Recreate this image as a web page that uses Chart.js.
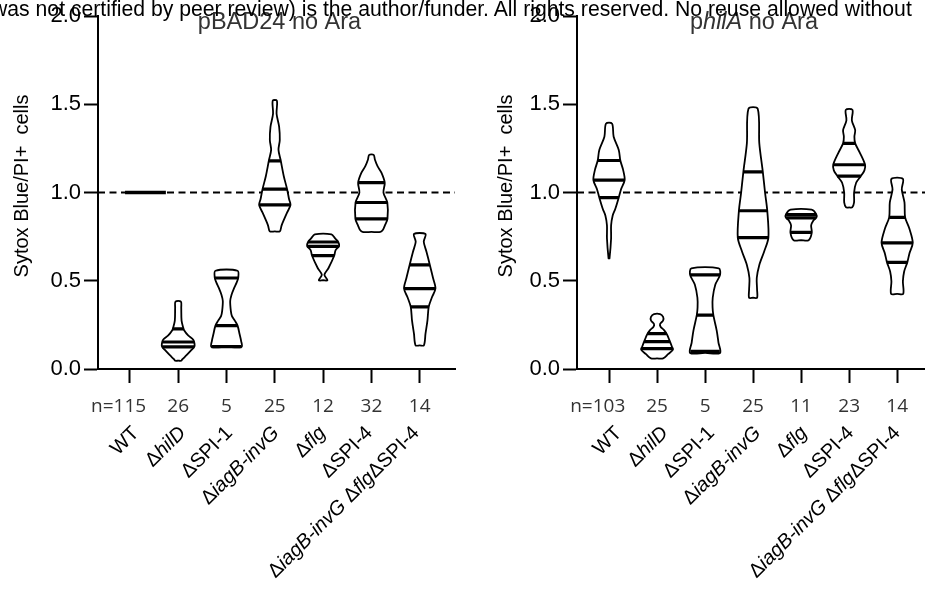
<!DOCTYPE html>
<html>
<head>
<meta charset="utf-8">
<script src="https://cdn.jsdelivr.net/npm/chart.js@4.4.1/dist/chart.umd.min.js"></script>
<style>
  html, body { margin: 0; padding: 0; background: #fff; }
  body { width: 925px; height: 597px; position: relative; overflow: hidden; }
  .panel { position: absolute; top: 0; }
  .note {
    position: absolute; left: -8px; top: -2px; z-index: 5;
    font: 21.2px "Liberation Sans", Arial, sans-serif; line-height: 21.2px;
    white-space: nowrap; color: #000;
  }
</style>
</head>
<body>
<canvas id="left" class="panel" style="left:0" width="462" height="597"></canvas>
<canvas id="right" class="panel" style="left:462px" width="463" height="597"></canvas>
<div class="note">was not certified by peer review) is the author/funder. All rights reserved. No reuse allowed without</div>
<script>
// strains on the x axis (italic gene names are listed separately)
const categories = ['WT', 'ΔhilD', 'ΔSPI-1', 'ΔiagB-invG', 'Δflg', 'ΔSPI-4', 'ΔiagB-invG ΔflgΔSPI-4'];
const italicParts = ['hilD', 'hilA', 'iagB-invG', 'flg'];
const yTicks = [0, 0.5, 1.0, 1.5, 2.0];
const refLevel = 1.0;
const yTitle = 'Sytox Blue/PI+  cells';

const leftTitle = 'pBAD24 no Ara';
const rightTitle = 'philA no Ara';
const nLeft = [115, 26, 5, 25, 12, 32, 14];
const nRight = [103, 25, 5, 25, 11, 23, 14];

// violin outlines: y levels and relative width at each level
const leftLevels = [
  [1.0],
  [0.047, 0.054, 0.078, 0.108, 0.125, 0.143, 0.166, 0.19, 0.218, 0.236, 0.274, 0.348, 0.382],
  [0.125, 0.16, 0.2, 0.246, 0.274, 0.3, 0.33, 0.385, 0.42, 0.46, 0.49, 0.516, 0.557],
  [0.78, 0.813, 0.842, 0.888, 0.93, 0.962, 1.018, 1.093, 1.186, 1.242, 1.298, 1.373, 1.447, 1.521],
  [0.503, 0.534, 0.571, 0.642, 0.674, 0.698, 0.72, 0.74, 0.763],
  [0.777, 0.79, 0.814, 0.851, 0.944, 1.0, 1.056, 1.112, 1.15, 1.186, 1.214],
  [0.134, 0.2, 0.274, 0.352, 0.404, 0.456, 0.516, 0.59, 0.665, 0.721, 0.765]
];
const leftWidths = [
  [0],
  [0.19, 0.25, 0.52, 0.83, 1.0, 1.02, 0.94, 0.62, 0.38, 0.31, 0.21, 0.19, 0.17],
  [0.94, 0.91, 0.81, 0.69, 0.52, 0.34, 0.27, 0.23, 0.31, 0.48, 0.63, 0.73, 0.69],
  [0.31, 0.42, 0.55, 0.77, 0.98, 0.89, 0.77, 0.56, 0.36, 0.23, 0.31, 0.27, 0.11, 0.13],
  [0.27, 0.08, 0.33, 0.69, 0.78, 1.0, 0.94, 0.75, 0.52],
  [0.56, 0.72, 0.84, 1.0, 0.99, 0.75, 0.83, 0.63, 0.38, 0.22, 0.14],
  [0.26, 0.36, 0.48, 0.56, 0.75, 0.98, 0.83, 0.63, 0.42, 0.25, 0.36]
];
// quartile / median lines
const leftQuartiles = [
  [1.0, 1.0, 1.0], [0.125, 0.153, 0.227], [0.127, 0.246, 0.516], [0.93, 1.02, 1.18],
  [0.643, 0.695, 0.72], [0.851, 0.944, 1.056], [0.352, 0.456, 0.59]
];

const rightLevels = [
  [0.627, 0.74, 0.814, 0.87, 0.907, 0.972, 1.018, 1.071, 1.13, 1.182, 1.242, 1.317, 1.391],
  [0.06, 0.084, 0.11, 0.125, 0.162, 0.196, 0.22, 0.24, 0.255, 0.275, 0.295, 0.311],
  [0.091, 0.15, 0.218, 0.305, 0.35, 0.404, 0.478, 0.534, 0.571],
  [0.404, 0.45, 0.516, 0.59, 0.665, 0.745, 0.897, 1.0, 1.118, 1.279, 1.475],
  [0.73, 0.773, 0.814, 0.842, 0.86, 0.879, 0.903],
  [0.916, 0.944, 1.0, 1.056, 1.093, 1.126, 1.158, 1.223, 1.279, 1.317, 1.354, 1.41, 1.469],
  [0.426, 0.497, 0.553, 0.605, 0.655, 0.715, 0.795, 0.86, 0.944, 1.018, 1.078]
];
const rightWidths = [
  [0.03, 0.13, 0.13, 0.23, 0.39, 0.61, 0.75, 0.98, 0.88, 0.71, 0.61, 0.29, 0.19],
  [0.38, 0.69, 1.0, 0.94, 0.78, 0.62, 0.44, 0.22, 0.19, 0.38, 0.38, 0.19],
  [0.94, 0.84, 0.73, 0.52, 0.47, 0.48, 0.64, 0.94, 0.86],
  [0.25, 0.25, 0.23, 0.39, 0.69, 0.96, 0.89, 0.75, 0.61, 0.39, 0.29],
  [0.47, 0.67, 0.63, 0.77, 0.96, 0.94, 0.66],
  [0.19, 0.31, 0.31, 0.44, 0.73, 0.96, 1.0, 0.69, 0.38, 0.33, 0.38, 0.17, 0.21],
  [0.38, 0.36, 0.44, 0.64, 0.77, 0.98, 0.77, 0.5, 0.46, 0.29, 0.36]
];
const rightQuartiles = [
  [0.972, 1.071, 1.182], [0.115, 0.155, 0.2], [0.1, 0.305, 0.534], [0.745, 0.897, 1.118],
  [0.775, 0.857, 0.875], [1.093, 1.158, 1.279], [0.605, 0.715, 0.86]
];

const FONT = '"Liberation Sans", Arial, sans-serif';
const halfUnit = 0.332;   // relative width 1 -> category units

function widthAt(lv, w, q) {
  if (q <= lv[0]) return w[0];
  for (let k = 1; k < lv.length; k++) {
    if (q <= lv[k]) {
      const t = (q - lv[k - 1]) / (lv[k] - lv[k - 1]);
      return w[k - 1] + t * (w[k] - w[k - 1]);
    }
  }
  return w[w.length - 1];
}

function bar(points, width, order) {
  return { data: points, borderColor: '#000', borderWidth: width, borderCapStyle: 'butt',
           pointRadius: 0, fill: false, tension: 0, order };
}

function buildSets(levels, widths, quartiles, xMin, xMax) {
  const sets = [];
  sets.push(Object.assign(bar([{x: xMin, y: refLevel}, {x: xMax, y: refLevel}], 2, 5),
                          {borderDash: [7, 4.5]}));
  levels.forEach((lv, i) => {
    const w = widths[i];
    if (lv.length < 2) {
      // all values identical: no spread, only a flat bar
      sets.push(bar([{x: i - 0.1, y: lv[0]}, {x: i + 0.745, y: lv[0]}], 3.5, 1));
      return;
    }
    const right = lv.map((y, k) => ({x: i + w[k] * halfUnit, y}));
    const left = lv.map((y, k) => ({x: i - w[k] * halfUnit, y})).reverse();
    sets.push({
      data: [{x: i, y: lv[0]}, ...right, ...left, {x: i, y: lv[0]}],
      borderColor: '#000', borderWidth: 1.8, backgroundColor: '#fff',
      fill: 'shape', tension: 0.3, pointRadius: 0, order: 2
    });
    quartiles[i].forEach(q => {
      const hw = widthAt(lv, w, q) * halfUnit;
      sets.push(bar([{x: i - hw, y: q}, {x: i + hw, y: q}], 3.2, 1));
    });
  });
  return sets;
}

function segments(text) {
  const out = [];
  let rest = text;
  while (rest.length) {
    let best = -1, part = '';
    italicParts.forEach(p => {
      const k = rest.indexOf(p);
      if (k >= 0 && (best < 0 || k < best)) { best = k; part = p; }
    });
    if (best < 0) { out.push([rest, false]); break; }
    if (best > 0) out.push([rest.slice(0, best), false]);
    out.push([part, true]);
    rest = rest.slice(best + part.length);
  }
  return out;
}

function drawRich(ctx, text, x, y, align, size, color, baseline) {
  const segs = segments(text);
  const fonts = segs.map(s => (s[1] ? 'italic ' : '') + size + 'px ' + FONT);
  let total = 0;
  const ws = segs.map((s, k) => { ctx.font = fonts[k]; const m = ctx.measureText(s[0]).width; total += m; return m; });
  let cx = align === 'right' ? x - total : align === 'center' ? x - total / 2 : x;
  ctx.fillStyle = color;
  ctx.textAlign = 'left';
  ctx.textBaseline = baseline || 'alphabetic';
  segs.forEach((s, k) => { ctx.font = fonts[k]; ctx.fillText(s[0], cx, y); cx += ws[k]; });
}

const panelText = {
  id: 'panelText',
  afterDraw(chart, args, opts) {
    const {ctx, chartArea} = chart;
    const xs = chart.scales.x;
    ctx.save();
    drawRich(ctx, opts.title, (chartArea.left + chartArea.right) / 2 + 3, 29, 'center', 23.5, '#333');

    // y axis title
    ctx.save();
    ctx.translate(opts.yTitleX, 186);
    ctx.rotate(-Math.PI / 2);
    drawRich(ctx, yTitle, 0, 0, 'center', 20, '#000', 'middle');
    ctx.restore();

    ctx.font = '19px "Open Sans"';
    ctx.fillStyle = '#333';
    ctx.textBaseline = 'alphabetic';
    opts.counts.forEach((n, i) => {
      const x = xs.getPixelForValue(i);
      ctx.textAlign = 'center';
      ctx.fillText(String(n), x, 412);
      if (i === 0) {
        const w = ctx.measureText(String(n)).width;
        ctx.textAlign = 'right';
        ctx.fillText('n=', x - w / 2, 412);
      }
    });

    // rotated strain names, packed a little tighter than the ticks
    categories.forEach((c, i) => {
      const x = xs.getPixelForValue(i) + opts.nameShift - 1.6 * i;
      ctx.save();
      ctx.translate(x, 434);
      ctx.rotate(-Math.PI / 4);
      drawRich(ctx, c, 0, 0, 'right', 20, '#000');
      ctx.restore();
    });
    ctx.restore();
  }
};

function makeChart(id, cfg) {
  const axisLine = { display: true, color: '#000', width: 2 };
  const tickMarks = { drawOnChartArea: false, drawTicks: true, tickLength: 14, tickWidth: 2, tickColor: '#000' };
  return new Chart(document.getElementById(id), {
    type: 'line',
    data: { datasets: buildSets(cfg.levels, cfg.widths, cfg.quartiles, cfg.xMin, cfg.xMax) },
    plugins: [panelText],
    options: {
      responsive: false,
      animation: false,
      events: [],
      layout: { padding: { top: 11, right: cfg.padRight, bottom: 0, left: 0 } },
      plugins: {
        legend: { display: false },
        tooltip: { enabled: false },
        panelText: { title: cfg.title, counts: cfg.counts, nameShift: cfg.nameShift, yTitleX: cfg.yTitleX }
      },
      scales: {
        x: {
          type: 'linear', min: cfg.xMin, max: cfg.xMax,
          afterBuildTicks: s => { s.ticks = categories.map((c, i) => ({ value: i })); },
          afterFit: s => { s.height = 228; },
          ticks: { display: false },
          grid: tickMarks, border: axisLine
        },
        y: {
          min: 0, max: 2,
          afterBuildTicks: s => { s.ticks = yTicks.map(v => ({ value: v })); },
          afterFit: s => { s.width = cfg.axisLeft; },
          ticks: { callback: v => v.toFixed(1), color: '#000', padding: 3, font: { family: FONT, size: 22 } },
          grid: tickMarks, border: axisLine
        }
      }
    }
  });
}

makeChart('left', {
  levels: leftLevels, widths: leftWidths, quartiles: leftQuartiles,
  counts: nLeft, title: leftTitle,
  xMin: -0.66, xMax: 6.73, padRight: 7, axisLeft: 98, yTitleX: 22.5, nameShift: 10
});
makeChart('right', {
  levels: rightLevels, widths: rightWidths, quartiles: rightQuartiles,
  counts: nRight, title: rightTitle,
  xMin: -0.667, xMax: 6.58, padRight: 0, axisLeft: 115, yTitleX: 44, nameShift: 13.5
});
</script>
</body>
</html>
